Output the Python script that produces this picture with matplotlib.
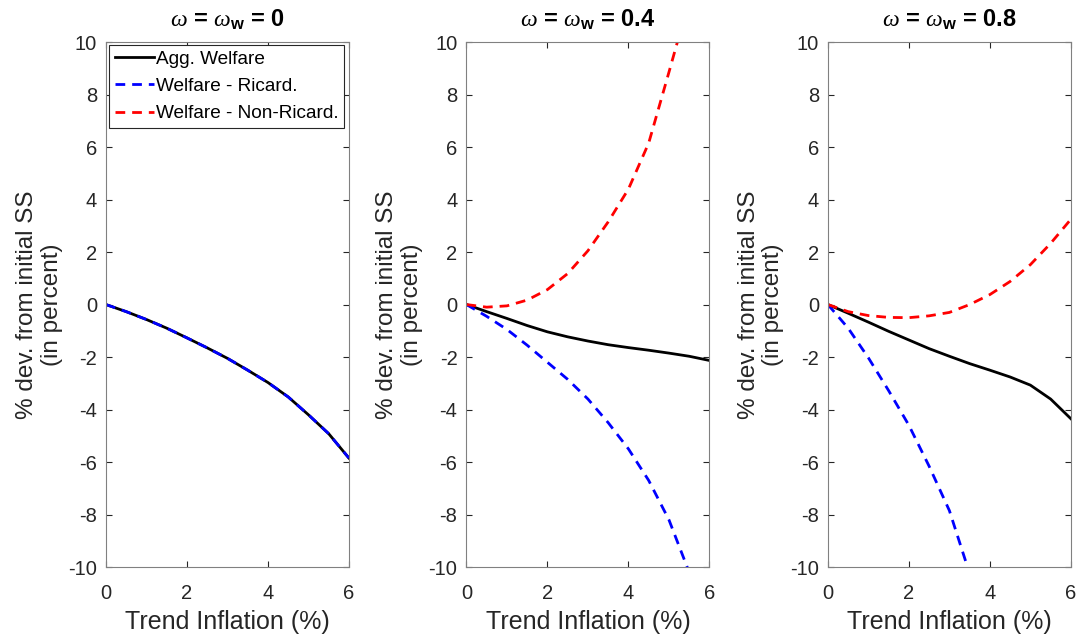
import matplotlib.pyplot as plt

plt.rcParams['font.family'] = 'Liberation Sans'
plt.rcParams['axes.unicode_minus'] = False
plt.rcParams['mathtext.fontset'] = 'custom'
plt.rcParams['mathtext.rm'] = 'Liberation Sans'
plt.rcParams['mathtext.it'] = 'Liberation Serif:italic'
plt.rcParams['mathtext.bf'] = 'Liberation Sans:bold'

# trend inflation grid (%)
trend_infl = [0, 0.5, 1, 1.5, 2, 2.5, 3, 3.5, 4, 4.5, 5, 5.5, 6]

# omega = omega_w = 0
agg_0 = [0, -0.27, -0.57, -0.9, -1.27, -1.65, -2.05, -2.5, -2.97, -3.52, -4.2, -4.92, -5.85]
ric_0 = [0, -0.27, -0.57, -0.9, -1.27, -1.65, -2.05, -2.5, -2.97, -3.52, -4.2, -4.92, -5.85]
nonric_0 = [float('nan')] * 13

# omega = omega_w = 0.4
agg_4 = [0, -0.27, -0.53, -0.8, -1.04, -1.23, -1.39, -1.53, -1.64, -1.74, -1.85, -1.97, -2.13]
ric_4 = [0, -0.45, -0.95, -1.55, -2.2, -2.85, -3.6, -4.5, -5.5, -6.7, -8.2, -10.2, -12.5]
nonric_4 = [0, -0.1, -0.05, 0.17, 0.57, 1.18, 2.05, 3.15, 4.4, 6.15, 8.85, 11.6, 15.0]

# omega = omega_w = 0.8
agg_8 = [0, -0.33, -0.67, -1.02, -1.35, -1.68, -1.97, -2.25, -2.5, -2.76, -3.07, -3.6, -4.35]
ric_8 = [0, -0.9, -2.03, -3.28, -4.6, -6.16, -7.85, -10.25, -13.2, -16.5, -20.0, -24.0, -28.5]
nonric_8 = [0, -0.27, -0.42, -0.49, -0.5, -0.43, -0.3, 0.0, 0.38, 0.88, 1.52, 2.33, 3.25]

titles = [r'$\omega$ = $\omega_{\mathbf{w}}$ = 0',
          r'$\omega$ = $\omega_{\mathbf{w}}$ = 0.4',
          r'$\omega$ = $\omega_{\mathbf{w}}$ = 0.8']
panels = [(agg_0, ric_0, nonric_0), (agg_4, ric_4, nonric_4), (agg_8, ric_8, nonric_8)]
lefts = [0.0983, 0.4327, 0.768]

fig = plt.figure(figsize=(10.78, 6.35), dpi=100)
axc = '#262626'

for i in range(3):
    ax = fig.add_axes([lefts[i], 0.107, 0.2254, 0.8268])
    agg, ric, nonric = panels[i]
    ax.plot(trend_infl, agg, color='black', lw=2, label='Agg. Welfare')
    ax.plot(trend_infl, ric, color='blue', lw=2, ls=(0, (3.5, 2.5)), label='Welfare - Ricard.')
    ax.plot(trend_infl, nonric, color='red', lw=2, ls=(0, (3.5, 2.5)), label='Welfare - Non-Ricard.')
    ax.set_xlim(0, 6)
    ax.set_ylim(-10, 10)
    ax.set_xticks([0, 2, 4, 6])
    ax.set_yticks(range(-10, 11, 2))
    ax.tick_params(direction='in', top=True, right=True, labelsize=14.5, colors=axc,
                   length=4, width=0.8)
    ax.tick_params(axis='x', pad=12)
    ax.tick_params(axis='y', pad=6.5)
    for lab in ax.get_xticklabels() + ax.get_yticklabels():
        lab.set_color(axc)
    for s in ax.spines.values():
        s.set_color('#808080')
        s.set_linewidth(0.8)
    ax.set_xlabel('Trend Inflation (%)', fontsize=18, color=axc, labelpad=5)
    ax.set_ylabel('% dev. from initial SS\n(in percent)', fontsize=17.5, color=axc,
                  labelpad=4, linespacing=1.15)
    ax.set_title(titles[i], fontsize=17, fontweight='bold', pad=11)
    if i == 0:
        leg = ax.legend(loc='upper left', fontsize=13.7, handlelength=2.05, handletextpad=0.12,
                        borderaxespad=0.15, fancybox=False, framealpha=1, borderpad=0.3,
                        labelspacing=0.52)
        leg.get_frame().set_edgecolor(axc)
        leg.get_frame().set_linewidth(0.8)

plt.savefig('out.png', dpi=100)
